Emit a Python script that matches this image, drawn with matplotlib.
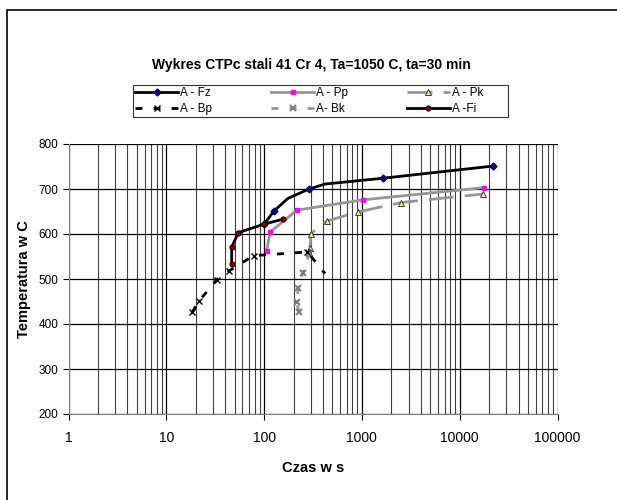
import matplotlib
matplotlib.use("Agg")
import matplotlib.pyplot as plt
from matplotlib.patches import Rectangle
from matplotlib.ticker import LogLocator, FixedLocator

plt.rcParams['font.family'] = ['Liberation Sans', 'DejaVu Sans']

# czas [s] / temperatura [C]
fz_t = [100, 126, 175, 288, 420, 1650, 22000]
fz_T = [622, 651, 679, 700, 711, 724, 751]
fz_mark = [0, 1, 3, 5, 6]

pp_t = [106, 115, 216, 1030, 17700]
pp_T = [562, 604, 653, 676, 703]

pk_t = [290, 295, 302, 443, 912, 2530, 17400]
pk_T = [557, 570, 601, 629, 649, 670, 689]

bp_t = [18.4, 21.6, 32.8, 44, 78, 277, 420]
bp_T = [426, 451, 498, 518, 552, 560, 512]
bp_mark = [0, 1, 2, 3, 4, 5]

bk_t = [227, 215, 224, 248, 290]
bk_T = [427, 450, 479, 513, 557]

fi_t = [46.6, 46.6, 54.5, 100, 157]
fi_T = [533, 571, 603, 622, 633]

fig = plt.figure(figsize=(6.17, 5.0), dpi=100)
ax = fig.add_axes([68.5 / 617, 86 / 500, 489 / 617, 270 / 500])

ax.plot(fz_t, fz_T, color='black', lw=2, marker='D', ms=3.5, mfc='#000080',
        mec='#000080', markevery=fz_mark, label='A - Fz', zorder=5)
ax.plot(pp_t, pp_T, color='#969696', lw=2, marker='s', ms=3.5, mfc='#FF00FF',
        mec='#FF00FF', label='A - Pp', zorder=4)
ax.plot(pk_t, pk_T, color='#969696', lw=2, dashes=(9, 4), marker='^', ms=4.5,
        mfc='#FFFF00', mec='#333399', mew=0.7, label='A - Pk', zorder=4)
ax.plot(bp_t, bp_T, color='black', lw=2, dashes=(2.5, 4), marker='x', ms=4.5,
        mec='black', markevery=bp_mark, label='A - Bp', zorder=5)
ax.plot(bk_t, bk_T, color='#969696', lw=2, dashes=(2.5, 4), marker='x', ms=4.5,
        mec='#808080', mew=1.5, label='A- Bk', zorder=4)
ax.plot(fi_t, fi_T, color='black', lw=2, marker='o', ms=3.5, mfc='#800000',
        mec='#400000', label='A -Fi', zorder=5)

ax.set_xscale('log')
ax.set_xlim(1, 100000)
ax.set_ylim(200, 800)
ax.set_yticks(range(200, 801, 100))
ax.xaxis.set_major_locator(FixedLocator([1, 10, 100, 1000, 10000, 100000]))
ax.xaxis.set_minor_locator(LogLocator(base=10, subs=range(2, 10)))
ax.set_xticklabels(['1', '10', '100', '1000', '10000', '100000'])
ax.tick_params(axis='x', which='major', labelsize=10, length=4, direction='out', pad=8)
ax.tick_params(axis='x', which='minor', length=0)
ax.tick_params(axis='y', labelsize=8.5, length=4, direction='out')
ax.grid(True, which='major', axis='both', color='black', lw=0.9)
ax.grid(True, which='minor', axis='x', color='#404040', lw=0.8)
ax.set_axisbelow(True)
for s in ['top', 'right']:
    ax.spines[s].set_visible(False)
ax.spines['left'].set_color('#808080')
ax.spines['bottom'].set_color('#808080')

ax.set_xlabel('Czas w s', fontsize=10.5, fontweight='bold', labelpad=12)
ax.set_ylabel('Temperatura w C', fontsize=10.5, fontweight='bold', labelpad=5)

fig.text(0.505, 0.87, 'Wykres CTPc stali 41 Cr 4, Ta=1050 C, ta=30 min',
         ha='center', va='center', fontsize=10, fontweight='bold')

h, l = ax.get_legend_handles_labels()
order = [0, 3, 1, 4, 2, 5]
labels = [l[i] for i in order]
labels[4] = labels[4] + '       '
labels[5] = labels[5] + '       '
leg = fig.legend([h[i] for i in order], labels, ncol=3,
                 loc='upper left', bbox_to_anchor=(133 / 617, 1 - 85 / 500),
                 frameon=True, fancybox=False, edgecolor='black', fontsize=8.5,
                 handlelength=3.6, borderpad=0.2, labelspacing=0.3,
                 handletextpad=0.2, columnspacing=5.0, borderaxespad=0)
leg.get_frame().set_linewidth(0.8)

fig.patches.append(Rectangle((7 / 617, -0.1), 1.2, 0.98 + 0.1,
                             transform=fig.transFigure, fill=False,
                             edgecolor='black', lw=1.2))

fig.savefig('out.png', dpi=100)
